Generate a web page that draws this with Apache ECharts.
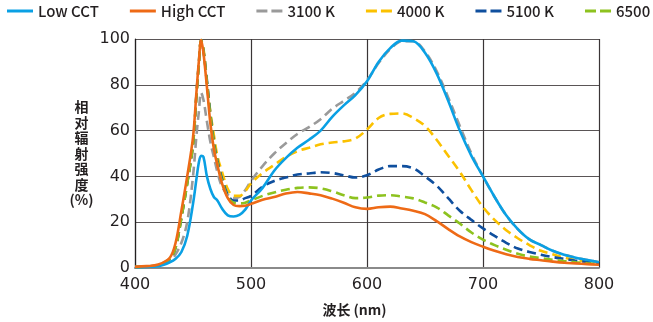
<!DOCTYPE html>
<html>
<head>
<meta charset="utf-8">
<script src="https://cdn.jsdelivr.net/npm/echarts@6/dist/echarts.min.js"></script>
<style>
  html, body { margin: 0; padding: 0; background: #fff; }
  #chart { width: 653px; height: 322px; }
</style>
</head>
<body>
<div id="chart"></div>
<script>
// Wavelength (nm)
const wavelengths = [400,410,420,430,435,440,445,450,453,455,457,459,462,465,468,471,475,480,485,490,495,500,
  510,520,530,540,550,560,570,580,590,600,610,620,630,640,650,660,670,680,690,700,710,720,730,740,750,760,770,780,790,800];

// Relative radiant intensity (%)
const lowCCT = [0.3,0.5,0.8,2.5,4,7,14,28,39,46,49,48.5,40,34.5,31,29.5,26,23,22.5,23.2,25.5,29.5,
  35,42.5,48,52.5,56,60,66,71,75.5,81.5,90,96,99.3,99,94,85,73,60,49,40,31,23,17,12.5,10,7.5,5.8,4.5,3.5,2.5];
const highCCT = [0.5,0.8,1.5,4.5,11,25,40,57,77,90,99.5,94,79,63,52,45,37,30.5,27.5,27,27.2,28,
  29.8,31,32.5,33.2,32.6,31.8,30.3,28.5,26.5,25.8,26.5,26.8,26,25,23.5,20.5,17,13.8,11.3,9.3,7.5,6,4.8,4,3.4,2.8,2.3,2,1.7,1.4];
const k3100 = [0.3,0.5,1,3,6,11,20,40,58,68,76.5,73.5,64,55,48.5,42,35.5,32,30.5,31,34,38,
  44.5,50,54.5,58.5,61.5,65,69.5,73,76.5,82,89.5,95.5,99,99,94.5,86,74.5,62,50,40,31,23,17,12.5,10,7.5,5.8,4.5,3.5,2.5];
const k4000 = [0.4,0.7,1.3,4,9,22,37,54,75,88,99.5,96,81,68,58,49,42,34.5,31.5,31.5,33.5,37,
  41.5,45,48.5,51,52.5,54,54.8,55.3,56.5,60.5,65.5,67.3,67.5,65.5,62,56,49,42,34,26.6,21,16.5,13,10,7.5,6,4.5,3.5,3,2.5];
const k5100 = [0.4,0.7,1.3,4,9,22,37,54,76,89,99.5,95,82,67,55,47,39,32,29.5,29.5,30.5,31.5,
  35.5,38,39.5,40.8,41.3,41.8,41.5,40.5,39.5,40.5,43,44.5,44.5,43.5,40,36,30.5,25,21,17.3,14,11,8.5,7,5.8,4.8,4,3.2,2.7,2.2];
const k6500 = [0.4,0.7,1.3,4,9,22,37,54,76,89,99.5,95,81,66,54,46,38,31,28.5,28.2,28.5,29.5,
  31.5,33,34.2,35,35.2,34.8,33.5,31.8,30.5,30.8,31.6,31.8,31.2,30.4,28.6,26.5,23,19.4,15.5,12.4,10,8,6.2,5,4.3,3.6,3,2.5,2.1,1.8];

const xTicks = [400, 500, 600, 700, 800];
const yTicks = [0, 20, 40, 60, 80, 100];
const legendOrder = ['Low CCT', 'High CCT', '3100 K', '4000 K', '5100 K', '6500 K'];
const dashedNames = ['3100 K', '4000 K', '5100 K', '6500 K'];

const SOLID_ICON = 'path://M0,0h26v3h-26z';
const DASH_ICON = 'path://M0,0h11v3h-11zM15,0h11v3h-11z';

function pairs(vals) { return wavelengths.map((w, i) => [w, vals[i]]); }

function mk(name, vals, color, dashed, z) {
  return {
    name: name,
    type: 'line',
    data: pairs(vals),
    smooth: 0.35,
    symbol: 'none',
    z: z,
    lineStyle: { color: color, width: 2.6, type: dashed ? [9, 5] : 'solid', cap: 'butt' },
    itemStyle: { color: color }
  };
}

const chart = echarts.init(document.getElementById('chart'), null, { renderer: 'canvas' });
chart.setOption({
  animation: false,
  backgroundColor: '#ffffff',
  legend: {
    data: legendOrder.map(n => ({ name: n, icon: dashedNames.indexOf(n) >= 0 ? DASH_ICON : SOLID_ICON })),
    left: 7,
    top: 3,
    padding: 0,
    width: 1200,
    itemWidth: 26,
    itemHeight: 3,
    itemGap: 31,
    symbolKeepAspect: false,
    textStyle: { fontFamily: 'Noto Sans CJK SC', fontSize: 15, fontWeight: 500, color: '#231f20', lineHeight: 16 }
  },
  grid: { left: 135, right: 54, top: 39, bottom: 46, containLabel: false },
  xAxis: {
    type: 'value',
    min: xTicks[0],
    max: xTicks[xTicks.length - 1],
    interval: 100,
    name: '波长 (nm)',
    nameLocation: 'middle',
    nameGap: 35,
    nameTextStyle: { fontFamily: 'Noto Sans CJK SC', fontSize: 14, fontWeight: 'bold', color: '#231f20', padding: [0, 25, 0, 0] },
    axisLine: { show: true, lineStyle: { color: '#8a8a8a', width: 2 } },
    axisTick: { show: false },
    axisLabel: { fontFamily: 'DejaVu Sans', fontSize: 16, color: '#231f20', margin: 9 },
    splitLine: { show: true, lineStyle: { color: '#3a3536', width: 1.2 } }
  },
  yAxis: {
    type: 'value',
    min: yTicks[0],
    max: yTicks[yTicks.length - 1],
    interval: 20,
    name: '相\n对\n辐\n射\n强\n度\n(%)',
    nameLocation: 'middle',
    nameRotate: 0,
    nameGap: 53,
    nameTextStyle: { fontFamily: 'Noto Sans CJK SC', fontSize: 14, fontWeight: 'bold', color: '#231f20',
      align: 'center', verticalAlign: 'middle', lineHeight: 15.5, padding: [0, 0, 25, 0] },
    axisLine: { show: true, lineStyle: { color: '#231f20', width: 1.2 } },
    axisTick: { show: false },
    axisLabel: { fontFamily: 'DejaVu Sans', fontSize: 16, color: '#231f20', margin: 5 },
    splitLine: { show: true, lineStyle: { color: '#5a5556', width: 1.2 } }
  },
  series: [
    mk('3100 K', k3100, '#9a9a9a', true, 2),
    mk('4000 K', k4000, '#fbc100', true, 3),
    mk('5100 K', k5100, '#0f4f9e', true, 4),
    mk('6500 K', k6500, '#8dc21f', true, 5),
    mk('Low CCT', lowCCT, '#0aa0e4', false, 6),
    mk('High CCT', highCCT, '#ee6a16', false, 7)
  ]
});
</script>
</body>
</html>
